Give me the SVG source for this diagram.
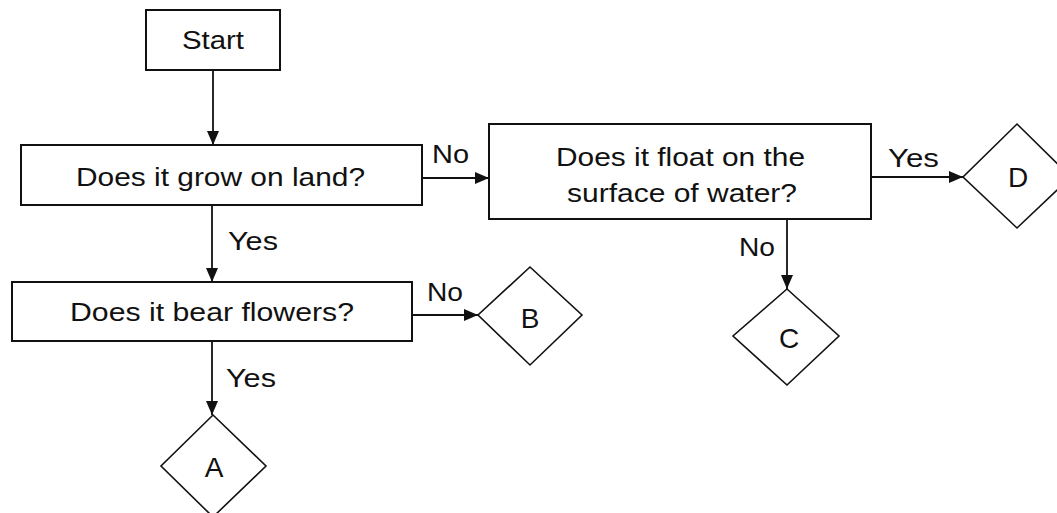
<svg xmlns="http://www.w3.org/2000/svg" width="1057" height="513" viewBox="0 0 1057 513">
<style>
.box{fill:#fff;stroke:#111;stroke-width:2}
.dia{fill:#fff;stroke:#111;stroke-width:1.6}
.t{font-family:"Liberation Sans",Arial,sans-serif;font-size:25px;fill:#111}
.c{text-anchor:middle}
.L{font-size:28px}
.conn{stroke:#111;stroke-width:1.8;fill:none;marker-end:url(#ah)}
</style>
<defs>
<marker id="ah" markerUnits="userSpaceOnUse" markerWidth="14" markerHeight="12" refX="14" refY="6" orient="auto">
<path d="M0,0 L14,6 L0,12 z" fill="#111"/>
</marker>
</defs>
<rect width="1057" height="513" fill="#fff"/>
<g id="connectors">
<line class="conn" x1="213" y1="70" x2="213" y2="145"/>
<line class="conn" x1="422" y1="178" x2="489" y2="178"/>
<line class="conn" x1="212" y1="205" x2="212" y2="282"/>
<line class="conn" x1="871" y1="177" x2="963" y2="177"/>
<line class="conn" x1="787" y1="219" x2="787" y2="289"/>
<line class="conn" x1="412" y1="315" x2="478" y2="315"/>
<line class="conn" x1="212" y1="341" x2="212" y2="415"/>
<text class="t" x="432" y="163" textLength="37" lengthAdjust="spacingAndGlyphs">No</text>
<text class="t" x="228" y="250" textLength="50" lengthAdjust="spacingAndGlyphs">Yes</text>
<text class="t" x="888" y="167" textLength="51" lengthAdjust="spacingAndGlyphs">Yes</text>
<text class="t" x="739" y="256" textLength="36" lengthAdjust="spacingAndGlyphs">No</text>
<text class="t" x="427" y="301" textLength="36" lengthAdjust="spacingAndGlyphs">No</text>
<text class="t" x="226" y="387" textLength="50" lengthAdjust="spacingAndGlyphs">Yes</text>
</g>
<g id="start">
<rect class="box" x="146" y="10" width="134" height="60"/>
<text class="t" x="182" y="49" textLength="62" lengthAdjust="spacingAndGlyphs">Start</text>
</g>
<g id="q-land">
<rect class="box" x="21" y="145" width="401" height="60"/>
<text class="t" x="76" y="186" textLength="289" lengthAdjust="spacingAndGlyphs">Does it grow on land?</text>
</g>
<g id="q-float">
<rect class="box" x="489" y="124" width="382" height="95"/>
<text class="t" x="556" y="166" textLength="249" lengthAdjust="spacingAndGlyphs">Does it float on the</text>
<text class="t" x="567" y="202" textLength="230" lengthAdjust="spacingAndGlyphs">surface of water?</text>
</g>
<g id="q-flowers">
<rect class="box" x="12" y="282" width="400" height="59"/>
<text class="t" x="70" y="321" textLength="284" lengthAdjust="spacingAndGlyphs">Does it bear flowers?</text>
</g>
<g id="D">
<polygon class="dia" points="1017,124 1071,177 1017,228 963,177"/>
<text class="t c L" x="1018" y="187">D</text>
</g>
<g id="C">
<polygon class="dia" points="787,289 839,336 787,385 733,336"/>
<text class="t c L" x="789" y="348">C</text>
</g>
<g id="B">
<polygon class="dia" points="530,267 582,315 530,365 478,315"/>
<text class="t c L" x="530" y="328">B</text>
</g>
<g id="A">
<polygon class="dia" points="213,415 266,466 213,517 161,466"/>
<text class="t c L" x="214" y="477">A</text>
</g>
</svg>
